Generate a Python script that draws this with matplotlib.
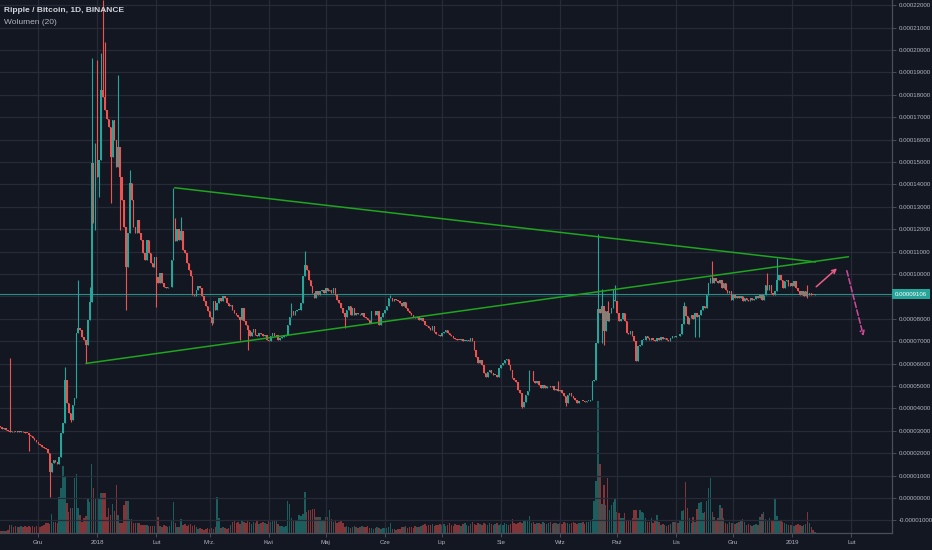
import numpy as np
import pandas as pd
import matplotlib
matplotlib.use('Agg')
import matplotlib.pyplot as plt
import matplotlib.dates as mdates
import matplotlib.transforms as mtransforms

# daily closes of XRP/BTC in satoshi, one list per month
close_2017_11 = [3150, 3100, 3120, 3050, 3000, 2950, 2980, 2960, 2940, 3000, 2950, 2980, 2960, 2900, 2880,
                 2800, 2750, 2680, 2600, 2500]
close_2017_12 = [2400, 2370, 2290, 2250, 2190, 2010, 1160, 1560, 1700, 1600, 1500, 1850, 2890, 3330, 5270,
                 4230, 3780, 3500, 4150, 4450, 7350, 7570, 7500, 7200, 7050, 6830, 7950, 8760, 14940, 13600, 15090]
close_2018_01 = [14340, 15090, 18210, 17920, 17320, 16900, 16580, 15240, 16870, 15980, 14790, 15680, 14340,
                 13300, 12110, 10330, 11810, 14050, 13300, 12110, 11810, 12410, 11810, 11520, 10920, 10620,
                 11520, 10920, 10480, 10330, 10770]
close_2018_02 = [9880, 9580, 10030, 9580, 9430, 9360, 9400, 9430, 10620, 11960, 11460, 11990, 11540, 11910,
                 11090, 10940, 10490, 10190, 9900, 9070, 9000, 9300, 9450, 9370, 9000, 8780, 8550, 8330]
close_2018_03 = [8100, 7810, 8780, 8400, 8700, 8930, 8800, 9000, 8930, 8700, 8550, 8630, 8400, 8250, 8180,
                 8100, 7960, 8480, 7880, 7730, 7510, 7210, 7430, 7540, 7280, 7210, 7360, 7300, 7210, 7280, 7060]
close_2018_04 = [6990, 7210, 7360, 7210, 7280, 7060, 7130, 7200, 7210, 7280, 7730, 8100, 8330, 8180, 8330,
                 8400, 8400, 8700, 9900, 10420, 10190, 9750, 9450, 9150, 8930, 9220, 9070, 9220, 9300, 9150]
close_2018_05 = [9370, 9220, 9300, 9150, 9370, 9070, 8850, 8700, 8480, 8250, 8100, 8400, 8550, 8180, 8480,
                 8180, 8250, 8200, 8180, 8250, 8100, 8030, 7960, 7810, 8330, 8330, 8180, 8330, 7730, 8100, 8250]
close_2018_06 = [8400, 8550, 8930, 8930, 8780, 8880, 8850, 8780, 8700, 8550, 8730, 8480, 8330, 8250, 8180,
                 8100, 8030, 8100, 7960, 8030, 7880, 7730, 7660, 7580, 7510, 7660, 7430, 7300, 7280, 7210]
close_2018_07 = [7360, 7430, 7510, 7360, 7280, 7210, 7130, 7090, 7060, 7050, 7090, 7030, 7030, 7060, 7030,
                 7160, 6990, 6610, 6310, 6010, 6160, 5940, 5570, 5420, 5640, 5720, 5570, 5490, 5490, 5420, 5790]
close_2018_08 = [5940, 6010, 6160, 6190, 5940, 5720, 5340, 5270, 5190, 4820, 4670, 4070, 4300, 4610, 4760,
                 5660, 5660, 5210, 5130, 5210, 5060, 4910, 5060, 4910, 4990, 4990, 4950, 4990, 4840, 4880, 4760]
close_2018_09 = [4840, 4690, 4540, 4240, 4610, 4690, 4540, 4460, 4390, 4240, 4310, 4340, 4320, 4280, 4340,
                 4340, 4390, 5210, 5280, 6930, 8420, 8270, 8570, 7450, 8340, 7900, 8270, 8490, 8790, 8790]
close_2018_10 = [8270, 7900, 8000, 8270, 7900, 7370, 7300, 7450, 7220, 7000, 6100, 6780, 6850, 7070, 7070,
                 7220, 7150, 7070, 7150, 7070, 7030, 7150, 7070, 7180, 7120, 7150, 7070, 7000, 7150, 7220, 7200]
close_2018_11 = [7250, 7210, 7300, 7750, 8570, 8120, 7750, 8040, 8190, 7970, 8270, 8100, 8180, 8400, 8550,
                 8480, 9070, 9600, 9820, 9600, 9820, 9700, 9600, 9750, 9370, 9600, 9300, 9150, 9220, 8850]
close_2018_12 = [9070, 8930, 9000, 8930, 9000, 8780, 8930, 8850, 8780, 8930, 8850, 8900, 9000, 8930, 9070,
                 8850, 9070, 9520, 9300, 9520, 9150, 9070, 9220, 9750, 9970, 9750, 9370, 9670, 9750, 9450, 9600]
close_2019_01 = [9450, 9670, 9370, 9220, 9070, 9220, 9000, 9220, 9070, 9150, 9070, 9050, 9106]

# relative volume per day (bar height)
vol_2017_11 = [2, 2, 2, 2, 3, 8, 8, 6, 7, 6, 6, 7, 6, 7, 6, 7, 6, 7, 6, 7]
vol_2017_12 = [7, 6, 7, 8, 10, 10, 9, 19, 11, 11, 10, 36, 45, 67, 56, 30, 21, 25, 25, 55, 59, 25, 18, 11, 15,
               17, 34, 31, 69, 45, 35]
vol_2018_01 = [25, 34, 40, 40, 40, 16, 25, 18, 29, 22, 48, 18, 10, 10, 28, 32, 32, 14, 14, 10, 10, 10, 10, 8,
               8, 8, 8, 7, 7, 7, 7]
vol_2018_02 = [10, 16, 7, 6, 8, 7, 6, 7, 12, 31, 10, 6, 6, 14, 8, 9, 7, 8, 9, 7, 8, 6, 4, 5, 4, 3, 4, 5]
vol_2018_03 = [4, 5, 4, 6, 36, 15, 5, 6, 5, 4, 5, 8, 11, 12, 10, 11, 9, 12, 11, 10, 12, 11, 9, 11, 10, 12, 9,
               10, 11, 10, 9]
vol_2018_04 = [12, 11, 12, 13, 12, 9, 7, 7, 6, 7, 32, 29, 15, 13, 13, 12, 18, 17, 19, 41, 21, 23, 23, 24, 24,
               16, 16, 16, 13, 12]
vol_2018_05 = [16, 16, 23, 14, 11, 12, 10, 11, 12, 10, 6, 7, 6, 5, 6, 7, 6, 5, 6, 7, 6, 6, 7, 5, 5, 4, 5, 6, 5,
               4, 5]
vol_2018_06 = [5, 5, 6, 10, 4, 4, 3, 4, 4, 6, 6, 7, 5, 6, 6, 5, 7, 6, 6, 7, 8, 9, 7, 8, 8, 9, 7, 8, 8, 9]
vol_2018_07 = [8, 9, 7, 8, 10, 8, 7, 9, 8, 8, 7, 9, 10, 8, 7, 9, 11, 9, 8, 10, 9, 8, 10, 9, 8, 10, 9, 8, 9, 10, 8]
vol_2018_08 = [9, 8, 10, 9, 8, 9, 14, 10, 9, 10, 11, 10, 13, 12, 13, 17, 10, 11, 9, 10, 10, 9, 11, 10, 9, 10,
               11, 9, 10, 10, 9]
vol_2018_09 = [10, 9, 11, 10, 10, 9, 10, 11, 10, 9, 10, 10, 11, 9, 11, 11, 12, 14, 32, 52, 132, 69, 29, 48, 28,
               55, 23, 28, 31, 35]
vol_2018_10 = [21, 20, 15, 15, 20, 13, 13, 13, 15, 23, 23, 15, 23, 21, 20, 15, 11, 11, 15, 10, 12, 18, 11, 8,
               9, 8, 7, 8, 9, 11, 11]
vol_2018_11 = [11, 10, 12, 22, 23, 51, 25, 15, 10, 16, 11, 24, 30, 31, 20, 21, 32, 45, 55, 21, 16, 12, 15, 28,
               25, 15, 10, 9, 11, 10]
vol_2018_12 = [10, 9, 10, 11, 12, 14, 11, 8, 9, 8, 7, 8, 9, 8, 16, 19, 21, 14, 13, 15, 12, 13, 34, 17, 12, 12,
               11, 10, 9, 8, 8]
vol_2019_01 = [8, 7, 8, 9, 8, 7, 8, 9, 21, 10, 6, 3, 1]

months = [
    ('2017-11-11', close_2017_11, vol_2017_11), ('2017-12-01', close_2017_12, vol_2017_12),
    ('2018-01-01', close_2018_01, vol_2018_01), ('2018-02-01', close_2018_02, vol_2018_02),
    ('2018-03-01', close_2018_03, vol_2018_03), ('2018-04-01', close_2018_04, vol_2018_04),
    ('2018-05-01', close_2018_05, vol_2018_05), ('2018-06-01', close_2018_06, vol_2018_06),
    ('2018-07-01', close_2018_07, vol_2018_07), ('2018-08-01', close_2018_08, vol_2018_08),
    ('2018-09-01', close_2018_09, vol_2018_09), ('2018-10-01', close_2018_10, vol_2018_10),
    ('2018-11-01', close_2018_11, vol_2018_11), ('2018-12-01', close_2018_12, vol_2018_12),
    ('2019-01-01', close_2019_01, vol_2019_01),
]
first_open = 3200

# wick extremes that stick out of the bodies
wick_high = {
    '2017-11-16': 6230, '2017-12-15': 5860, '2017-12-22': 9730, '2017-12-28': 9430, '2017-12-29': 19630,
    '2017-12-31': 15830, '2018-01-01': 19550, '2018-01-03': 19850, '2018-01-04': 22230, '2018-01-05': 20370,
    '2018-01-12': 18880, '2018-01-18': 14640, '2018-02-10': 13820, '2018-02-11': 12500, '2018-02-14': 12540,
    '2018-04-13': 8700, '2018-04-20': 11010, '2018-06-04': 9070, '2018-08-16': 5730, '2018-08-31': 5210,
    '2018-09-21': 11780, '2018-09-23': 9310, '2018-09-26': 8790, '2018-09-29': 9310, '2018-09-30': 9490,
    '2018-11-05': 8760, '2018-11-20': 10570, '2018-12-19': 10040, '2018-12-24': 10720, '2019-01-09': 9520,
}
wick_low = {
    '2017-11-26': 2100, '2017-12-07': 45, '2017-12-18': 3410, '2017-12-26': 6010, '2017-12-30': 12260,
    '2017-12-31': 11960, '2018-01-02': 13450, '2018-01-08': 13150, '2018-01-13': 11960, '2018-01-16': 8390,
    '2018-02-01': 8540, '2018-03-02': 7730, '2018-03-17': 7060, '2018-03-21': 6610, '2018-05-11': 7580,
    '2018-08-12': 4000, '2018-09-04': 4090, '2018-09-23': 6930, '2018-09-24': 6850, '2018-11-11': 7200,
    '2018-11-13': 7200, '2019-01-09': 8930,
}

# drawings: triangle and the two arrows (date, price in satoshi)
upper_line = [('2018-02-10 18:00', 13850), ('2019-01-13 04:00', 10540)]
lower_line = [('2017-12-26 04:00', 6010), ('2019-01-30 10:00', 10770)]
arrow_up = [('2019-01-13 14:00', 9430), ('2019-01-24 12:00', 10250)]
arrow_down = [('2019-01-29 16:00', 10150), ('2019-02-07 10:00', 7230)]
last_price = 9106

month_ticks = ['2017-12-01', '2018-01-01', '2018-02-01', '2018-03-01', '2018-04-01', '2018-05-01',
               '2018-06-01', '2018-07-01', '2018-08-01', '2018-09-01', '2018-10-01', '2018-11-01',
               '2018-12-01', '2019-01-01', '2019-02-01']
month_labels = ['Gru', '2018', 'Lut', 'Mrz.', 'Kwi', 'Maj', 'Cze', 'Lip', 'Sie', 'Wrz', 'Paź', 'Lis',
                'Gru', '2019', 'Lut']

SAT = 1e-8
BG = '#131722'
GRID = '#272b37'
TEXT = '#b2b5be'
UP = '#26a69a'
DOWN = '#ef5350'

plt.rcParams['font.family'] = ['Liberation Sans Narrow', 'Liberation Sans', 'DejaVu Sans']

dates = pd.DatetimeIndex(np.concatenate(
    [pd.date_range(start, periods=len(c), freq='D').values for start, c, _ in months]))
close = np.concatenate([c for _, c, _ in months]).astype(float)
vol = np.concatenate([v for _, _, v in months]).astype(float)
opn = np.concatenate([[first_open], close[:-1]])
high = np.maximum(opn, close)
low = np.minimum(opn, close)
for d, v in wick_high.items():
    i = dates.get_loc(pd.Timestamp(d))
    high[i] = max(high[i], v)
for d, v in wick_low.items():
    i = dates.get_loc(pd.Timestamp(d))
    low[i] = min(low[i], v)

x = mdates.date2num(dates)
up = close >= opn
colors = np.where(up, UP, DOWN)

fig = plt.figure(figsize=(9.32, 5.5), dpi=100, facecolor=BG)
vax = fig.add_axes([0, 17 / 550, 892 / 932, 533 / 550])
ax = fig.add_axes([0, 17 / 550, 892 / 932, 533 / 550], sharex=vax)
vax.set_facecolor(BG)
ax.patch.set_visible(False)

# volume underneath
vax.bar(x, vol, width=0.8, color=colors, alpha=0.5, linewidth=0)
vax.set_ylim(0, 533)
vax.axis('off')

# candles
ax.vlines(x, low * SAT, high * SAT, colors=colors, linewidth=0.8, zorder=3)
body = (close - opn) * SAT
body = np.where(np.abs(body) < 30 * SAT, 30 * SAT, body)
ax.bar(x, body, bottom=opn * SAT, width=0.8, color=colors, linewidth=0, zorder=3)

x0 = mdates.date2num(pd.Timestamp('2017-11-11')) - 0.1
ax.set_xlim(x0, x0 + 468.5)
ybot = -1.5625e-5
ax.set_ylim(ybot, ybot + 23.795e-5)

# grid and axes; the 0.00009 label sits under the last-price tag
yt = np.arange(-1, 23) * 1e-5
ax.set_yticks(yt)
ax.set_yticklabels(['' if abs(v - 9e-5) < 1e-9 else '%.8f' % v for v in yt])
ax.yaxis.tick_right()
ax.set_xticks(mdates.date2num(pd.to_datetime(month_ticks)))
ax.set_xticklabels(month_labels)
ax.grid(True, color=GRID, linewidth=0.9, zorder=0)
ax.set_axisbelow(True)
ax.tick_params(axis='both', colors='#4a4e59', labelcolor=TEXT, labelsize=4.4, length=3, width=0.7, pad=2)
for s in ['top', 'left']:
    ax.spines[s].set_visible(False)
for s in ['right', 'bottom']:
    ax.spines[s].set_color('#4a4e59')
    ax.spines[s].set_linewidth(0.9)

# last price line and label
ax.axhline(last_price * SAT, color=UP, linewidth=0.8, alpha=0.85, zorder=2)
trans = mtransforms.blended_transform_factory(ax.transAxes, ax.transData)
ax.text(1.0035, last_price * SAT, '%.8f' % (last_price * SAT), transform=trans, ha='left', va='center',
        fontsize=4.4, color='white', clip_on=False,
        bbox=dict(boxstyle='square,pad=0.45', facecolor=UP, edgecolor='none'))

# triangle
for line in (upper_line, lower_line):
    lx = mdates.date2num(pd.to_datetime([p[0] for p in line]))
    ly = np.array([p[1] for p in line]) * SAT
    ax.plot(lx, ly, color='#1fa51f', linewidth=1.1, zorder=4)

# arrows
for arr, col, ls in ((arrow_up, '#ea5f87', '-'), (arrow_down, '#d2489a', '--')):
    ax.annotate('', xy=(mdates.date2num(pd.Timestamp(arr[1][0])), arr[1][1] * SAT),
                xytext=(mdates.date2num(pd.Timestamp(arr[0][0])), arr[0][1] * SAT),
                arrowprops=dict(arrowstyle='->', color=col, linewidth=1.1, linestyle=ls,
                                shrinkA=0, shrinkB=0, mutation_scale=7), zorder=5)

fig.text(4 / 932, 1 - 11 / 550, 'Ripple / Bitcoin, 1D, BINANCE', color='#d1d4dc', fontsize=6,
         fontweight='bold', va='center', ha='left')
fig.text(4 / 932, 1 - 22 / 550, 'Wolumen (20)', color=TEXT, fontsize=6, va='center', ha='left')

fig.savefig('out.png', dpi=100, facecolor=BG)
